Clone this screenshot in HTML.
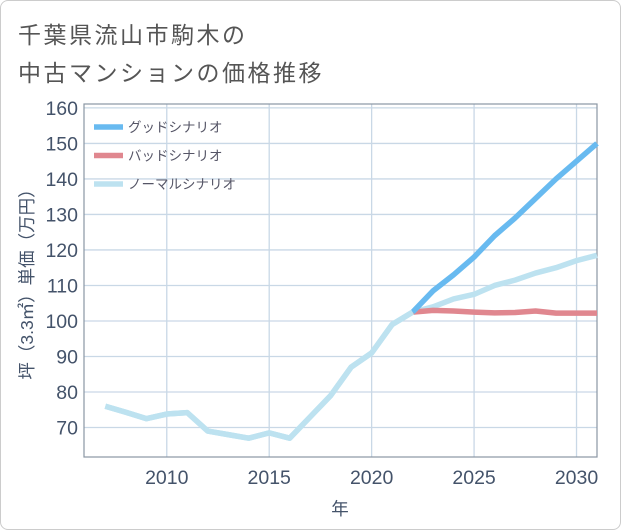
<!DOCTYPE html>
<html><head><meta charset="utf-8">
<style>
body{margin:0;background:#fff;font-family:"Liberation Sans","Noto Sans CJK JP",sans-serif;}
#wrap{position:relative;width:619px;height:528px;border:1px solid #ccc;border-radius:8px;overflow:hidden;background:#fff}
.title{position:absolute;left:17px;font-size:23px;color:#555;letter-spacing:2.5px}
svg text{font-family:"Liberation Sans","Noto Sans CJK JP",sans-serif}
</style></head><body>
<div id="wrap">
<div class="title" style="top:15px">千葉県流山市駒木の</div>
<div class="title" style="top:53px">中古マンションの価格推移</div>
<svg id="chart" width="621" height="530" style="position:absolute;left:-1px;top:-1px"></svg>
</div>
<script>
const normalYears=[2007,2008,2009,2010,2011,2012,2013,2014,2015,2016,2017,2018,2019,2020,2021,2022,2023,2024,2025,2026,2027,2028,2029,2030,2031];
const normalValues=[76,74.3,72.5,73.8,74.2,69,68,67,68.5,67,73,79,87,91,99,102.5,104,106.2,107.5,110,111.5,113.5,115,117,118.5];
const goodYears=[2022,2023,2024,2025,2026,2027,2028,2029,2030,2031];
const goodValues=[102.5,108.5,113,118,124,129,134.5,140,145,150];
const badYears=[2022,2023,2024,2025,2026,2027,2028,2029,2030,2031];
const badValues=[102.5,103,102.8,102.5,102.3,102.4,102.8,102.2,102.2,102.2];
const yTicks=[70,80,90,100,110,120,130,140,150,160];
const xTicks=[2010,2015,2020,2025,2030];

const L=84,R=597,T=104,B=457;
const xMin=2005.96,xMax=2031,yMin=61.7,yMax=161.1;
const xs=v=>L+(v-xMin)/(xMax-xMin)*(R-L);
const ys=v=>B-(v-yMin)/(yMax-yMin)*(B-T);
const svg=document.getElementById('chart');
const NS='http://www.w3.org/2000/svg';
function mk(tag,attrs){const e=document.createElementNS(NS,tag);for(const k in attrs)e.setAttribute(k,attrs[k]);svg.appendChild(e);return e;}

yTicks.forEach(t=>{
  const g=mk('line',{x1:L,x2:R,y1:ys(t),y2:ys(t),stroke:'#c9d8e6','stroke-width':1.3});
  
  
  const tx=mk('text',{x:78,y:ys(t)+7,'text-anchor':'end','font-size':19.5,fill:'#44536a'});
  tx.textContent=t;
  
  
});
xTicks.forEach(t=>{
  const g=mk('line',{x1:xs(t),x2:xs(t),y1:T,y2:B,stroke:'#c9d8e6','stroke-width':1.3});
  
  
  const tx=mk('text',{x:xs(t),y:484,'text-anchor':'middle','font-size':19.5,fill:'#44536a'});
  tx.textContent=t;
  
  
});
const frame=mk('rect',{x:L,y:T,width:R-L,height:B-T,fill:'none',stroke:'#8a96a3','stroke-width':1.2});



function series(xv,yv,color,name){
  const p=mk('polyline',{points:xv.map((x,i)=>xs(x)+','+ys(yv[i])).join(' '),fill:'none',stroke:color,'stroke-width':5.5,'stroke-linejoin':'round'});
  
  
}
series(normalYears,normalValues,'#bde2f0','normal-scenario-line');
series(badYears,badValues,'#e0878f','bad-scenario-line');
series(goodYears,goodValues,'#68baf0','good-scenario-line');
series(normalYears.slice(0,16),normalValues.slice(0,16),'#bde2f0','normal-history-line');

const legend=[['グッドシナリオ','#68baf0'],['バッドシナリオ','#e0878f'],['ノーマルシナリオ','#bde2f0']];
legend.forEach((l,i)=>{
  const y=127+i*28.5;
  const r=mk('line',{x1:94,x2:123,y1:y,y2:y,stroke:l[1],'stroke-width':5.5});
  
  
  const t=mk('text',{x:128,y:y+5,'font-size':13.5,fill:'#556'});
  t.textContent=l[0];
  
  
});
const yt=mk('text',{transform:'translate(33,280) rotate(-90)','text-anchor':'middle','font-size':17.5,fill:'#44536a'});
yt.textContent='坪（3.3㎡）単価（万円）';


const xt=mk('text',{x:340,y:515,'text-anchor':'middle','font-size':17.5,fill:'#44536a'});
xt.textContent='年';


</script>
</body></html>
